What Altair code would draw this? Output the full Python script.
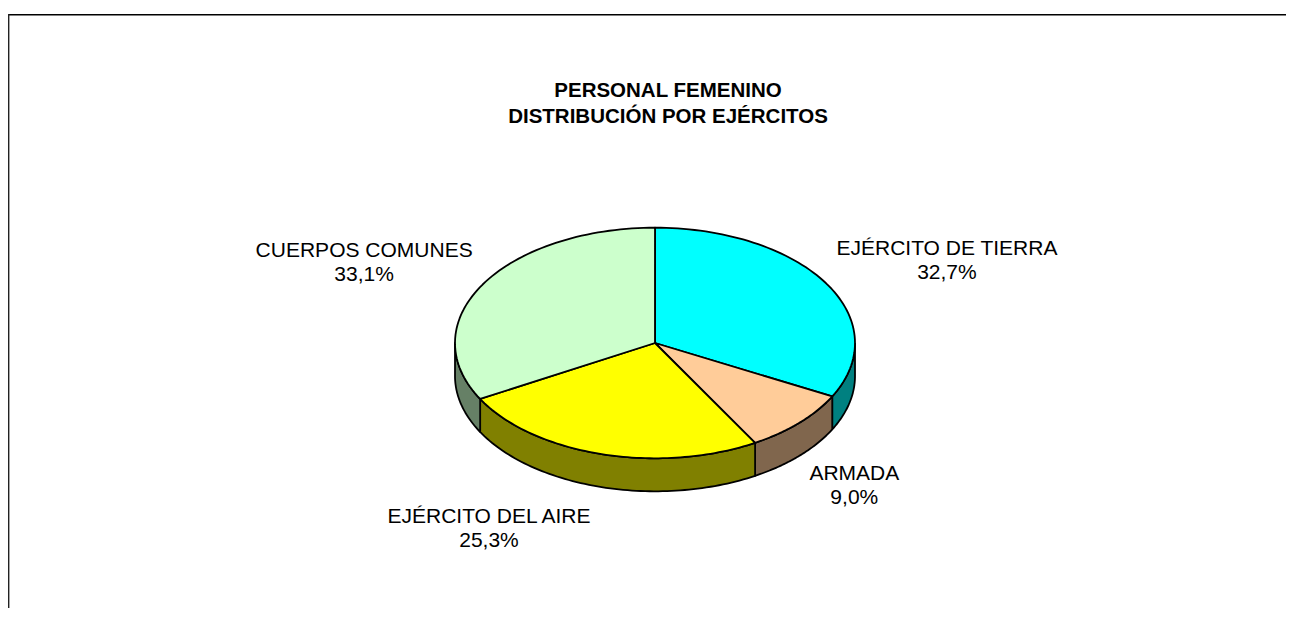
import altair as alt
import pandas as pd

# ---- data ----
categories = ["EJÉRCITO DE TIERRA", "ARMADA", "EJÉRCITO DEL AIRE", "CUERPOS COMUNES"]
values = [32.7, 9.0, 25.3, 33.1]
pct_labels = ["32,7%", "9,0%", "25,3%", "33,1%"]
top_colors = ["#00FFFF", "#FFCC99", "#FFFF00", "#CCFFCC"]
side_colors = ["#008080", "#80664D", "#808000", "#668066"]
title_lines = ["PERSONAL FEMENINO", "DISTRIBUCIÓN POR EJÉRCITOS"]

# ---- layout ----
W, H = 1278, 600
CX, CY = 647, 335          # pie centre in view pixels
UNIT = 200.0               # pixels per unit (horizontal radius = 1 unit)
RY = 115.3 / UNIT          # vertical radius of the tilted pie
DEPTH = 33 / UNIT          # thickness of the pie
N = 72                     # segments per arc
LABEL_SIZE = 21
GX = 10 / UNIT
KY = 43 / UNIT
FONT = "Liberation Sans"

# approximate Arial/Liberation Sans advance widths (1/1000 em)
ADV = {' ': 278, 'A': 667, 'B': 667, 'C': 722, 'D': 722, 'E': 667, 'F': 611, 'G': 778,
       'H': 722, 'I': 278, 'J': 500, 'K': 667, 'L': 556, 'M': 833, 'N': 722, 'O': 778,
       'P': 667, 'Q': 778, 'R': 722, 'S': 667, 'T': 611, 'U': 722, 'V': 667, 'W': 944,
       'X': 667, 'Y': 667, 'Z': 611, 'É': 667, 'Ó': 778}


def half_width_units(s, size):
    return sum(ADV.get(ch, 667) for ch in s) / 1000.0 * size / 2.0 / UNIT


df = pd.DataFrame({
    "cat": categories,
    "value": values,
    "pct": pct_labels,
    "idx": list(range(len(categories))),
    "hw": [half_width_units(c, LABEL_SIZE) for c in categories],
})

xscale = alt.Scale(domain=[-CX / UNIT, (W - CX) / UNIT], nice=False, zero=False)
yscale = alt.Scale(domain=[-(H - CY) / UNIT, CY / UNIT], nice=False, zero=False)

base = (
    alt.Chart(df)
    .transform_joinaggregate(total="sum(value)")
    .transform_window(cum="sum(value)", sort=[alt.SortField("idx")], frame=[None, 0])
    .transform_calculate(
        a0="2*PI*(datum.cum - datum.value)/datum.total",
        a1="2*PI*datum.cum/datum.total",
    )
)

# side walls (front half of the pie)
sides = (
    base.transform_calculate(b0="max(datum.a0, PI/2)", b1="min(datum.a1, 3*PI/2)")
    .transform_filter("datum.b1 > datum.b0")
    .transform_calculate(k=f"sequence(0, {2 * N + 3})")
    .transform_flatten(["k"])
    .transform_calculate(
        upper=f"datum.k <= {N} || datum.k == {2 * N + 2}",
        t=f"datum.k <= {N} ? datum.k/{N} : (datum.k <= {2 * N + 1} ? ({2 * N + 1} - datum.k)/{N} : 0)",
    )
    .transform_calculate(ang="datum.b0 + (datum.b1 - datum.b0)*datum.t")
    .transform_calculate(
        px="sin(datum.ang)",
        py=f"{RY}*cos(datum.ang) - (datum.upper ? 0 : {DEPTH})",
    )
    .mark_line(filled=True, stroke="black", strokeWidth=1.8, strokeJoin="round")
    .encode(
        x=alt.X("px:Q", scale=xscale, axis=None),
        y=alt.Y("py:Q", scale=yscale, axis=None),
        color=alt.Color("cat:N", scale=alt.Scale(domain=categories, range=side_colors), legend=None),
        order=alt.Order("k:Q"),
    )
)

# top faces
tops = (
    base.transform_calculate(k=f"sequence(0, {N + 3})")
    .transform_flatten(["k"])
    .transform_calculate(
        onarc=f"datum.k >= 1 && datum.k <= {N + 1}",
        t=f"clamp((datum.k - 1)/{N}, 0, 1)",
    )
    .transform_calculate(ang="datum.a0 + (datum.a1 - datum.a0)*datum.t")
    .transform_calculate(
        px="datum.onarc ? sin(datum.ang) : 0",
        py=f"datum.onarc ? {RY}*cos(datum.ang) : 0",
    )
    .mark_line(filled=True, stroke="black", strokeWidth=1.8, strokeJoin="round")
    .encode(
        x=alt.X("px:Q", scale=xscale, axis=None),
        y=alt.Y("py:Q", scale=yscale, axis=None),
        color=alt.Color("cat:N", scale=alt.Scale(domain=categories, range=top_colors), legend=None),
        order=alt.Order("k:Q"),
    )
)

# labels
lab_base = base.transform_calculate(m="(datum.a0 + datum.a1)/2").transform_calculate(
    s="sin(datum.m)", c="cos(datum.m)"
).transform_calculate(
    ex="datum.s",
    ey=f"{RY}*datum.c - (datum.c < 0 ? {DEPTH} : 0)",
).transform_calculate(
    lx=f"datum.ex + (datum.s >= 0 ? 1 : -1)*(datum.hw + {GX})",
    ly=f"datum.ey + datum.c*{KY}",
)

name_text = lab_base.mark_text(
    font=FONT, fontSize=LABEL_SIZE, align="center", baseline="middle", dy=-12, color="black"
).encode(
    x=alt.X("lx:Q", scale=xscale, axis=None),
    y=alt.Y("ly:Q", scale=yscale, axis=None),
    text="cat:N",
)
pct_text = lab_base.mark_text(
    font=FONT, fontSize=LABEL_SIZE, align="center", baseline="middle", dy=12, color="black"
).encode(
    x=alt.X("lx:Q", scale=xscale, axis=None),
    y=alt.Y("ly:Q", scale=yscale, axis=None),
    text="pct:N",
)

# title
title_df = pd.DataFrame({"t": title_lines, "line": list(range(len(title_lines)))})
title1 = alt.Chart(title_df).transform_filter("datum.line == 0").mark_text(
    font=FONT, fontSize=20.5, fontWeight="bold", align="center", baseline="alphabetic", color="black"
).encode(text="t:N", x=alt.value(660), y=alt.value(88.7))
title2 = alt.Chart(title_df).transform_filter("datum.line == 1").mark_text(
    font=FONT, fontSize=20.5, fontWeight="bold", align="center", baseline="alphabetic", color="black"
).encode(text="t:N", x=alt.value(660), y=alt.value(114.5))

# chart-area frame
frame_df = pd.DataFrame({"a": [0]})
top_rule = alt.Chart(frame_df).mark_rule(color="black", strokeWidth=1.5).encode(
    x=alt.value(0), x2=alt.value(W), y=alt.value(6.7)
)
left_rule = alt.Chart(frame_df).mark_rule(color="#222222", strokeWidth=1.6).encode(
    x=alt.value(0.6), y=alt.value(6.0), y2=alt.value(H)
)

chart = (
    alt.layer(top_rule, left_rule, sides, tops, name_text, pct_text, title1, title2)
    .resolve_scale(color="independent")
    .properties(width=W, height=H, padding=0, autosize=alt.AutoSizeParams(type="none"))
    .configure_view(stroke=None)
)

chart.save("out.html", embed_options={"renderer": "svg", "actions": False})
